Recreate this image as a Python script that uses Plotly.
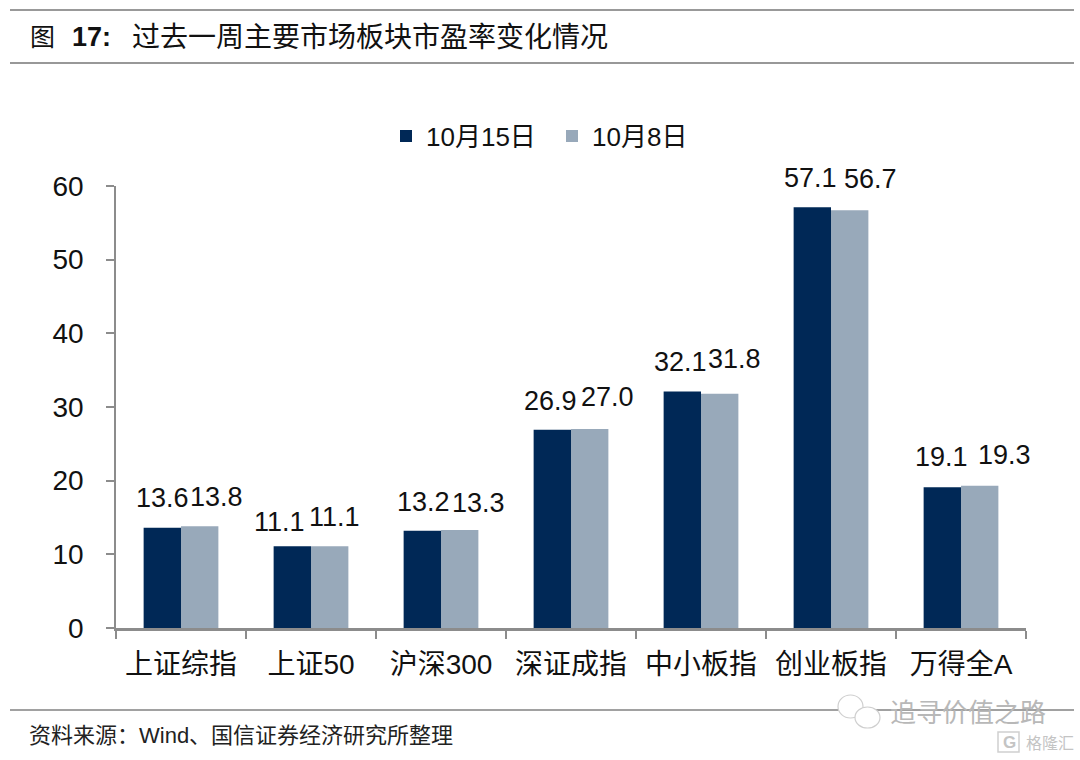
import plotly.graph_objects as go

categories = ["上证综指", "上证50", "沪深300", "深证成指", "中小板指", "创业板指", "万得全A"]
oct15 = [13.6, 11.1, 13.2, 26.9, 32.1, 57.1, 19.1]
oct8 = [13.8, 11.1, 13.3, 27.0, 31.8, 56.7, 19.3]
series_names = ["10月15日", "10月8日"]

# label nudges (pixels from the category centre / above the bar value), as placed in the reference
label_dx_1 = [-19, -32, -18, -21, -21, -21, -20]
label_dx_2 = [35, 23, 37, 36, 33, 39, 43]
label_dy_1 = [30, 24, 29, 29, 30, 29, 30]
label_dy_2 = [29, 29, 27, 32, 35, 31, 31]

W, H = 1080, 760
L, R, T, B = 116, 1026, 186, 628
FONT = "Liberation Sans, Noto Sans CJK SC"
DARK = "#002856"
LIGHT = "#98A9BA"
AXIS = "#8c8c8c"


def fx(x):
    return (x - L) / (R - L)


def fy(y):
    return (B - y) / (B - T)


fig = go.Figure()
for name, vals, col in [(series_names[0], oct15, DARK), (series_names[1], oct8, LIGHT)]:
    fig.add_trace(go.Bar(name=name, x=categories, y=vals, marker=dict(color=col, line_width=0), cliponaxis=False))

annotations = []
for vals, dxs, dys in [(oct15, label_dx_1, label_dy_1), (oct8, label_dx_2, label_dy_2)]:
    for c, v, dx, dy in zip(categories, vals, dxs, dys):
        annotations.append(dict(text=f"{v:.1f}", x=c, y=v, xref="x", yref="y", xshift=dx, yshift=dy,
                                xanchor="center", yanchor="middle", showarrow=False,
                                font=dict(size=27, color="#111111", family=FONT)))

page_texts = [
    ("图", 28, 37, 25, "#111111"),
    ("<b>17:</b>", 70, 37, 27, "#111111"),
    ("过去一周主要市场板块市盈率变化情况", 130, 37, 28, "#111111"),
    ("资料来源\uff1aWind、国信证券经济研究所整理", 27, 735, 22, "#222222"),
    ("追寻价值之路", 888, 713, 26, "#b8b8b8"),
    ("格隆汇", 1024, 743, 16, "#c4c4c4"),
    ("<b>G</b>", 1001, 742, 17, "#c4c4c4"),
]
for text, x, y, size, color in page_texts:
    annotations.append(dict(text=text, x=fx(x), y=fy(y), xref="paper", yref="paper", xanchor="left",
                            yanchor="middle", showarrow=False, font=dict(size=size, color=color, family=FONT)))

shapes = []
for y0, col, w in [(10, "#777777", 1.5), (63, "#333333", 1.2), (710, "#444444", 1.2)]:
    shapes.append(dict(type="line", xref="paper", yref="paper", x0=fx(10), x1=fx(1074), y0=fy(y0), y1=fy(y0),
                       line=dict(color=col, width=w)))
for x0, x1, y0, y1 in [(838, 863, 695, 718), (855, 880, 707, 728)]:
    shapes.append(dict(type="circle", xref="paper", yref="paper", x0=fx(x0), x1=fx(x1), y0=fy(y0), y1=fy(y1),
                       line=dict(color="#cfcfcf", width=1.2), fillcolor="white"))
shapes.append(dict(type="rect", xref="paper", yref="paper", x0=fx(998), x1=fx(1019), y0=fy(732), y1=fy(752),
                   line=dict(color="#d0d0d0", width=1.5), fillcolor="rgba(0,0,0,0)"))

fig.update_layout(
    width=W, height=H, autosize=False,
    margin=dict(l=L, r=W - R, t=T, b=H - B, pad=0),
    paper_bgcolor="white", plot_bgcolor="white",
    barmode="group", bargap=0.425, bargroupgap=0,
    font=dict(family=FONT, color="#111111"),
    annotations=annotations, shapes=shapes,
    legend=dict(orientation="h", x=fx(386), xanchor="left", y=fy(136), yanchor="middle",
                font=dict(size=26, color="#111111", family=FONT), itemwidth=30, traceorder="normal",
                entrywidth=121, entrywidthmode="pixels", bgcolor="rgba(0,0,0,0)"),
    xaxis=dict(type="category", range=[-0.5, 6.5], autorange=False, tickson="boundaries", ticks="outside", ticklen=8,
               tickwidth=1.5, tickcolor=AXIS, showline=True, linecolor=AXIS, linewidth=2.5, showgrid=False,
               ticklabelstandoff=10, tickfont=dict(size=28, color="#111111", family=FONT)),
    yaxis=dict(range=[0, 60], tickvals=[0, 10, 20, 30, 40, 50, 60], ticks="outside", ticklen=8, tickwidth=1.5,
               tickcolor=AXIS, showline=True, linecolor=AXIS, linewidth=1.5, showgrid=False, zeroline=False,
               ticklabelstandoff=17, tickfont=dict(size=28, color="#111111", family=FONT)),
)

fig.write_html("out.html", config={"displayModeBar": False}, post_script="document.body.style.margin='0';")
